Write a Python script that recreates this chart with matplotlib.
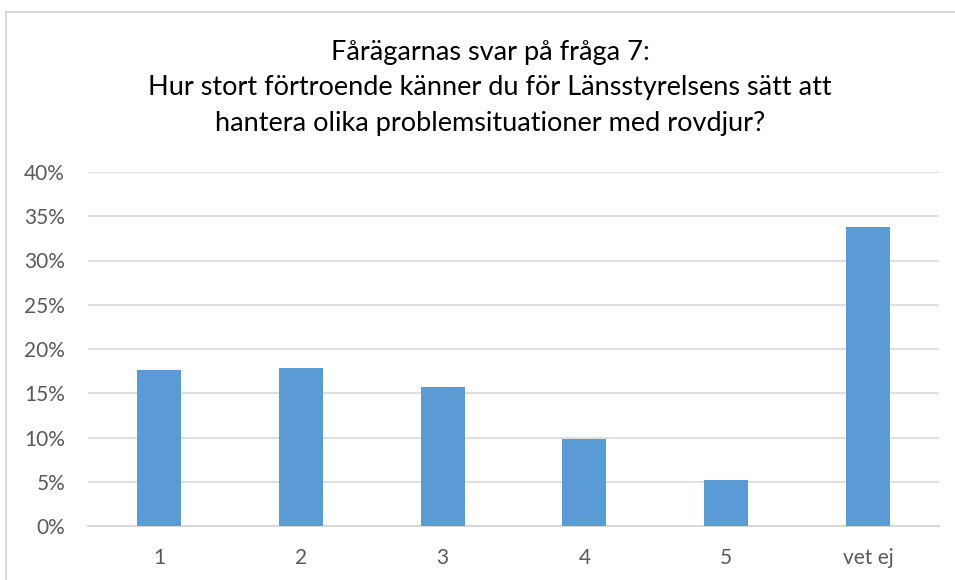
import matplotlib.pyplot as plt
from matplotlib.patches import Rectangle
from matplotlib.ticker import PercentFormatter

# svar på fråga 7
categories = ['1', '2', '3', '4', '5', 'vet ej']
shares = [17.6, 17.8, 15.7, 9.8, 5.2, 33.8]
y_ticks = [0, 5, 10, 15, 20, 25, 30, 35, 40]

title = ('Fårägarnas svar på fråga 7:\n'
         'Hur stort förtroende känner du för Länsstyrelsens sätt att\n'
         'hantera olika problemsituationer med rovdjur?')

plt.rcParams['font.family'] = ['Lato', 'DejaVu Sans']

fig = plt.figure(figsize=(9.55, 5.8), dpi=100)
ax = fig.add_axes([88 / 955, 1 - 526 / 580, 851 / 955, 354 / 580])

# chart border (cut off at right and bottom like the screenshot)
fig.patches.append(Rectangle((6 / 955, -0.05), 1.2, 1 - 12 / 580 + 0.05,
                             transform=fig.transFigure, fill=False,
                             edgecolor='#d9d9d9', linewidth=1.5))

ax.bar(range(len(categories)), shares, width=0.31, color='#5b9bd5', zorder=3)

ax.set_xlim(-0.5, len(categories) - 0.5)
ax.set_ylim(0, 40)
ax.set_yticks(y_ticks)
ax.yaxis.set_major_formatter(PercentFormatter(decimals=0))
ax.set_xticks(range(len(categories)))
ax.set_xticklabels(categories)

ax.grid(axis='y', color='#d9d9d9', linewidth=1.2, zorder=0)
for side in ['top', 'right', 'left']:
    ax.spines[side].set_visible(False)
ax.spines['bottom'].set_color('#d9d9d9')
ax.spines['bottom'].set_linewidth(1.5)
ax.tick_params(length=0, labelsize=15, labelcolor='#595959')
ax.tick_params(axis='y', pad=16.5)
ax.tick_params(axis='x', pad=15.5)

fig.text(490 / 955, 1 - 40 / 580, title, ha='center', va='top',
         fontsize=19.5, color='black', linespacing=1.52)

fig.savefig('out.png', dpi=100)
